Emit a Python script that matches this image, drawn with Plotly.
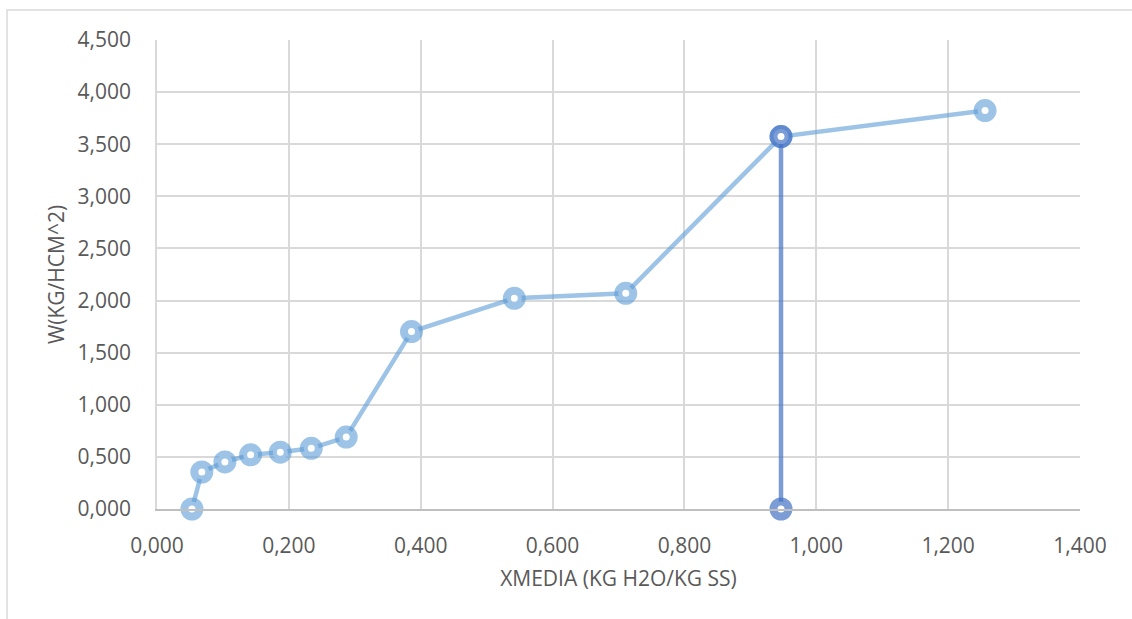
import plotly.graph_objects as go

# Drying curve: drying rate W versus mean moisture content
x_media = [0.053, 0.068, 0.103, 0.142, 0.187, 0.234, 0.287, 0.386, 0.542, 0.711, 0.9465, 1.256]
w_rate = [0.000, 0.355, 0.452, 0.520, 0.545, 0.582, 0.690, 1.702, 2.022, 2.070, 3.573, 3.823]

# Vertical marker line at the critical moisture content
x_crit = [0.9465, 0.9465]
w_crit = [3.573, 0.000]

x_ticks = [0.0, 0.2, 0.4, 0.6, 0.8, 1.0, 1.2, 1.4]
y_ticks = [0.0, 0.5, 1.0, 1.5, 2.0, 2.5, 3.0, 3.5, 4.0, 4.5]

light = "rgba(91,155,213,0.6)"
dark = "rgba(68,114,196,0.7)"
text_grey = "#595959"
grid = "#D9D9D9"
font_family = "Open Sans, Noto Sans, sans-serif"
fs = 21

fig = go.Figure()
fig.add_trace(go.Scatter(
    x=x_media, y=w_rate, mode="lines+markers", cliponaxis=False,
    line=dict(color=light, width=4.5),
    marker=dict(symbol="circle", size=15, color="white",
                line=dict(color=light, width=8)),
    showlegend=False,
))
fig.add_trace(go.Scatter(
    x=x_crit, y=w_crit, mode="lines+markers", cliponaxis=False,
    line=dict(color=dark, width=4.5),
    marker=dict(symbol="circle", size=15, color="white",
                line=dict(color=dark, width=8)),
    showlegend=False,
))

fig.update_layout(
    width=1132, height=619,
    margin=dict(l=157, r=52, t=40, b=110),
    paper_bgcolor="white", plot_bgcolor="white",
    separators=",.",
    font=dict(family=font_family, size=fs, color=text_grey),
    shapes=[dict(type="rect", xref="paper", yref="paper",
                 x0=-0.1625, x1=1.2, y0=-0.4, y1=1.064,
                 line=dict(color=grid, width=1.5), fillcolor="rgba(0,0,0,0)",
                 layer="below")],
)
fig.update_xaxes(
    range=[0, 1.4], tickvals=x_ticks, tickformat=".3f",
    showgrid=True, gridcolor=grid, gridwidth=1.5,
    zeroline=False, showline=True, linecolor="#BFBFBF", linewidth=1.5,
    mirror=False, ticks="", ticklabelstandoff=17,
    tickfont=dict(size=fs, color=text_grey),
    title=dict(text="XMEDIA (KG H2O/KG SS)", standoff=13,
               font=dict(size=fs, color=text_grey)),
)
fig.update_yaxes(
    range=[0, 4.5], tickvals=y_ticks, tickformat=".3f",
    showgrid=True, gridcolor=grid, gridwidth=1.5,
    zeroline=False, showline=True, linecolor=grid, linewidth=1.5,
    ticks="", ticklabelstandoff=20,
    tickfont=dict(size=fs, color=text_grey),
    title=dict(text="W(KG/HCM^2)", standoff=7,
               font=dict(size=fs, color=text_grey)),
)

fig.write_html("out.html")
